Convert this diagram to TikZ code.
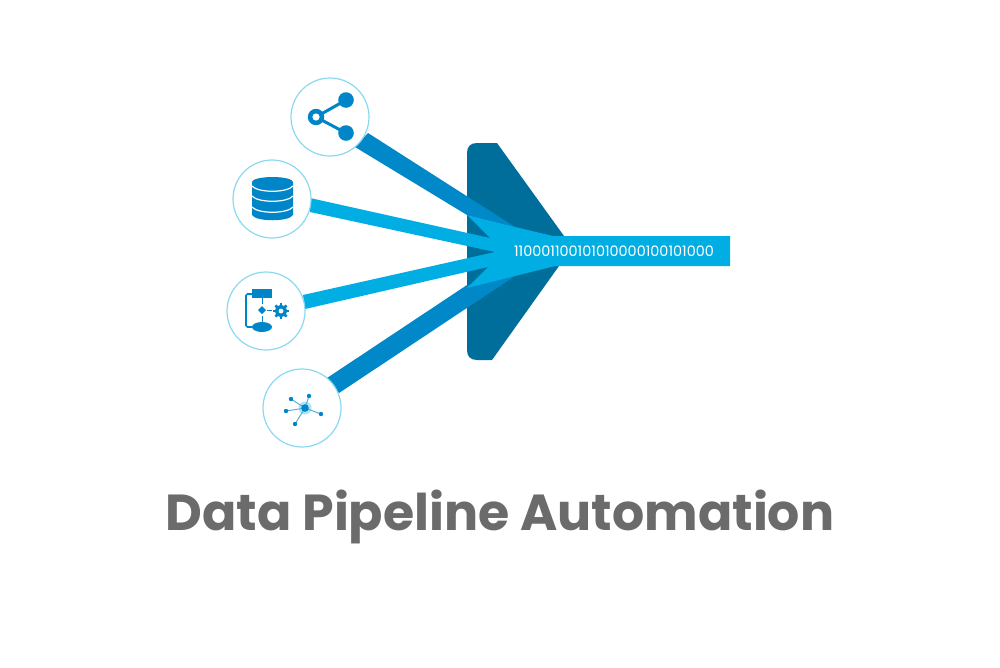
\documentclass[tikz,border=0pt]{standalone}
\usepackage{fontspec}
\setmainfont{Poppins}
\definecolor{ringc}{HTML}{8AD8F2}
\definecolor{bright}{HTML}{00AEE4}
\definecolor{midb}{HTML}{0088C9}
\definecolor{deepb}{HTML}{006E9B}
\definecolor{iconb}{HTML}{0085C8}
\definecolor{titlec}{HTML}{6B6B6B}
\tikzset{
  ringnode/.style={circle,draw=ringc,fill=white,line width=1.2pt,minimum size=78pt,inner sep=0pt},
  iconline/.style={draw=iconb,line width=1.6pt},
  wline/.style={draw=white,line width=1.2pt},
  netline/.style={draw=iconb!70,line width=.9pt}
}
\begin{document}
\begin{tikzpicture}[x=1pt,y=-1pt]
\useasboundingbox (0,0) rectangle (1000,667);
% funnel
\fill[deepb] (497,143) -- (477,143) .. controls (470,143) and (467,147) .. (467,153) -- (467,350)
  .. controls (467,356) and (470,360) .. (477,360) -- (492,360) -- (559,266) -- (564,236) -- cycle;
% dark outer bands
\fill[midb] (368,133) -- (515,227) -- (467,215) -- (355,147) -- cycle;
\fill[midb] (327,378) -- (467,285) -- (515,276) -- (339,393) -- cycle;
% bright merged stream
\fill[bright] (730,236) -- (553,236) -- (515,227) -- (467,215) -- (490,238) -- (310,198) -- (310,212)
  -- (495,252) -- (303,295) -- (305,309) -- (488,267) -- (467,288) -- (515,276) -- (555,266) -- (730,266) -- cycle;
\node[font=\fontsize{14.4}{16}\selectfont,text=white,inner sep=0pt] (bits) at (614,251.5) {110001100101010000100101000};
% circles
\node[ringnode] (share) at (330,117) {};
\node[ringnode] (db) at (272,199) {};
\node[ringnode] (flow) at (266,311) {};
\node[ringnode] (net) at (302,408) {};
% share icon
\draw[iconb,line width=3pt] (346,100) -- (316,117) -- (346,133);
\fill[iconb] (346,100) circle (7.8) (346,133) circle (7.8) (316,117) circle (8.2);
\fill[white] (316,117) circle (3.6);
% database icon
\fill[iconb] (252,182) arc[start angle=180,end angle=360,x radius=20.5,y radius=5] arc[start angle=0,end angle=180,x radius=20.5,y radius=5] -- cycle;
\fill[iconb] (252,182) -- (252,215) .. controls (256,222) and (289,222) .. (293,215) -- (293,182) -- cycle;
\draw[wline] (252,186) .. controls (258,193) and (287,193) .. (293,186);
\draw[wline] (252,196) .. controls (258,203) and (287,203) .. (293,196);
\draw[wline] (252,207) .. controls (258,214) and (287,214) .. (293,207);
% flow icon
\fill[iconb] (252,289) rectangle (272,298);
\fill[iconb] (262,327) ellipse (10 and 5);
\fill[iconb] (262,306) -- (266,310) -- (262,314) -- (258,310) -- cycle;
\draw[iconline,rounded corners=1.5pt] (252,294) -- (246,294) -- (246,327) -- (252,327);
\draw[iconline,line width=1pt] (262,298) -- (262,304) (262,316) -- (262,322) (267,310) -- (272,310);
\begin{scope}[shift={(281,311)}]
  \draw[iconb,line width=3.4pt] (0,0) circle (4.4);
  \foreach \a in {0,45,...,315} \draw[iconb,line width=2.6pt] (\a:5) -- (\a:7.8);
\end{scope}
% network icon
\fill[ringc!70] (305,408) circle (6.5);
\foreach \p in {(291,399),(309,396),(321,414),(295,424),(286,411)} {
  \draw[netline] (305,408) -- \p;
  \fill[iconb] \p circle (2.2);
}
\fill[iconb] (305,408) circle (3.8);
% title
\node[font=\bfseries\fontsize{50.6}{60}\selectfont,text=titlec,anchor=base,inner sep=0pt] (title) at (500,530) {Data Pipeline Automation};
\end{tikzpicture}
\end{document}
